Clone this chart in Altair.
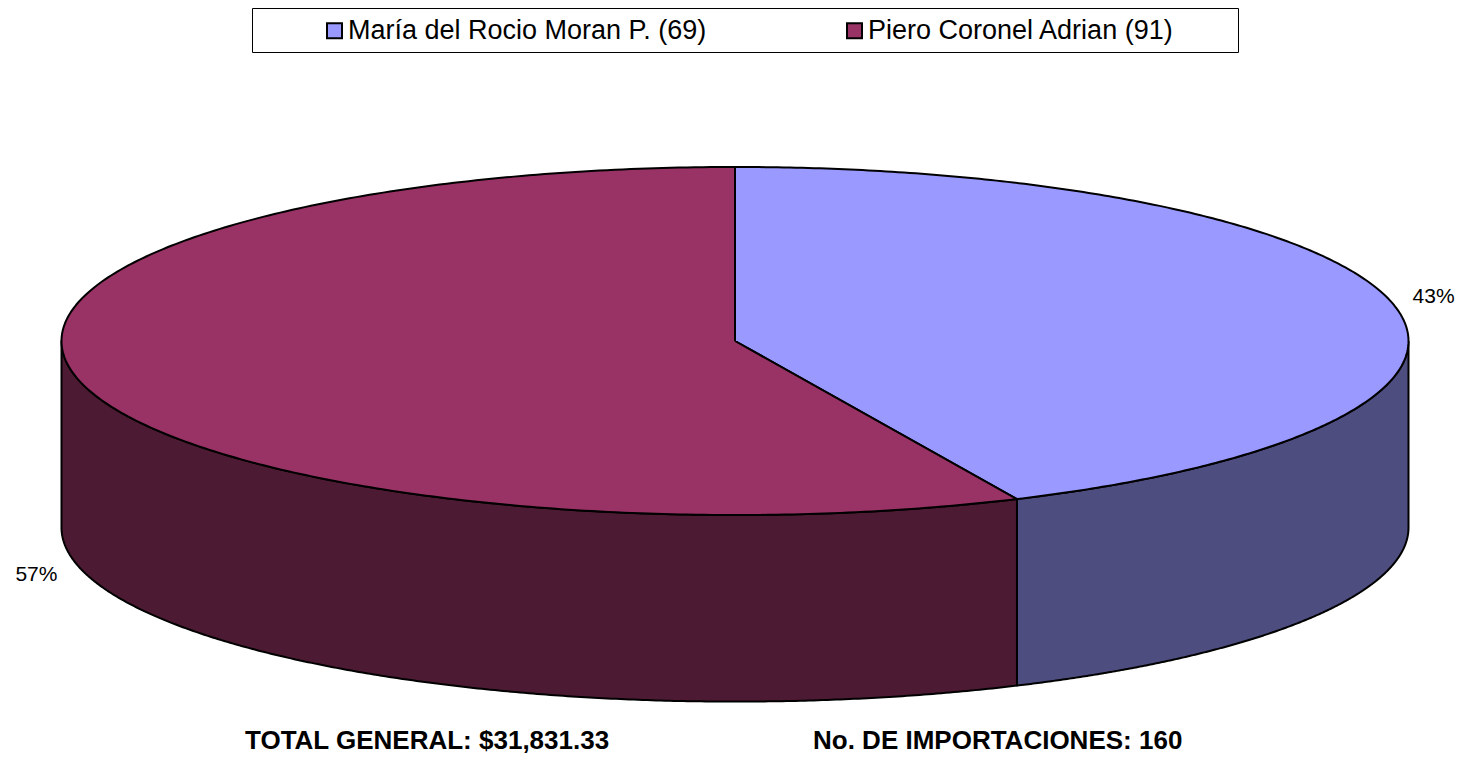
import numpy as np
import pandas as pd
import altair as alt

# ---- data ----
names = ["María del Rocio Moran P.", "Piero Coronel Adrian"]
counts = [69, 91]
top_colors = ["#9999FF", "#993366"]
side_colors = ["#4D4D80", "#4D1A33"]
total_general = "$31,831.33"

# ---- geometry of the 3D pie (unit radius) ----
TILT = 0.2584
DEPTH = 0.277
W, H = 1449, 747
CX, CY, S = 727.0, 333.0, 673.5
xdom = [(0 - CX) / S, (W - CX) / S]
ydom = [(CY - H) / S, CY / S]

total = sum(counts)
labels = [f"{n} ({c})" for n, c in zip(names, counts)]
fracs = [c / total for c in counts]
bounds = np.concatenate([[0.0], np.cumsum(fracs)]) * 2 * np.pi

top_rows, side_rows, lab_rows = [], [], []
for i, lab in enumerate(labels):
    a0, a1 = bounds[i], bounds[i + 1]
    t = np.linspace(a0, a1, 300)
    pts = [(0.0, 0.0)] + list(zip(np.sin(t), TILT * np.cos(t))) + [(0.0, 0.0)]
    for k, (x, y) in enumerate(pts):
        top_rows.append({"label": lab, "poly": f"top{i}", "o": k, "x": x, "y": y})
    lo, hi = max(a0, np.pi / 2), min(a1, 3 * np.pi / 2)
    if hi > lo:
        ts = np.linspace(lo, hi, 300)
        up = list(zip(np.sin(ts), TILT * np.cos(ts)))
        dn = list(zip(np.sin(ts[::-1]), TILT * np.cos(ts[::-1]) - DEPTH))
        sp = up + dn + [up[0]]
        for k, (x, y) in enumerate(sp):
            side_rows.append({"label": lab, "poly": f"side{i}", "o": k, "x": x, "y": y})
    mid = (a0 + a1) / 2
    lx = 1.03 * np.sin(mid)
    ly = 1.15 * TILT * np.cos(mid) - (DEPTH + 0.007 if np.cos(mid) < 0 else -0.002)
    lab_rows.append({"x": lx, "y": ly, "pct": f"{round(fracs[i] * 100):.0f}%"})

top_df = pd.DataFrame(top_rows)
side_df = pd.DataFrame(side_rows)
lab_df = pd.DataFrame(lab_rows)

X = alt.X("x:Q", scale=alt.Scale(domain=xdom, nice=False, zero=False), axis=None)
Y = alt.Y("y:Q", scale=alt.Scale(domain=ydom, nice=False, zero=False), axis=None)

sides = alt.Chart(side_df).mark_line(
    stroke="black", strokeWidth=2, strokeJoin="round"
).encode(
    x=X, y=Y, order="o:Q", detail="poly:N",
    fill=alt.Fill("label:N", scale=alt.Scale(domain=labels, range=side_colors), legend=None),
)

tops = alt.Chart(top_df).mark_line(
    stroke="black", strokeWidth=2, strokeJoin="round"
).encode(
    x=X, y=Y, order="o:Q", detail="poly:N",
    fill=alt.Fill(
        "label:N",
        scale=alt.Scale(domain=labels, range=top_colors),
        legend=alt.Legend(
            title=None, orient="none", legendX=313, legendY=9,
            direction="horizontal", symbolType="square", symbolSize=225,
            symbolStrokeColor="black", symbolStrokeWidth=2,
            labelFontSize=27, labelFont="Liberation Sans", labelColor="black",
            labelOffset=0, columnPadding=134, padding=0, labelLimit=0,
        ),
    ),
)

right_lab = alt.Chart(lab_df).transform_filter("datum.x > 0").mark_text(
    align="left", baseline="middle", fontSize=21, font="Liberation Sans", color="black"
).encode(x=X, y=Y, text="pct:N")
left_lab = alt.Chart(lab_df).transform_filter("datum.x <= 0").mark_text(
    align="right", baseline="middle", fontSize=21, font="Liberation Sans", color="black"
).encode(x=X, y=Y, text="pct:N")

legend_box = alt.Chart(pd.DataFrame({"a": [0]})).mark_rect(
    fill="white", stroke="black", strokeWidth=1
).encode(x=alt.value(244.5), x2=alt.value(1230.5), y=alt.value(0.5), y2=alt.value(44.5))

foot_df = pd.DataFrame({
    "t": [f"TOTAL GENERAL: {total_general}", f"No. DE IMPORTACIONES: {total}"],
})
foot1 = alt.Chart(foot_df).transform_filter("indexof(datum.t, 'TOTAL') == 0").mark_text(
    align="left", baseline="middle", fontSize=26, fontWeight="bold", font="Liberation Sans", color="black"
).encode(x=alt.value(237), y=alt.value(733), text="t:N")
foot2 = alt.Chart(foot_df).transform_filter("indexof(datum.t, 'No.') == 0").mark_text(
    align="left", baseline="middle", fontSize=26, fontWeight="bold", font="Liberation Sans", color="black"
).encode(x=alt.value(805), y=alt.value(733), text="t:N")

chart = alt.layer(legend_box, sides, tops, right_lab, left_lab, foot1, foot2).resolve_scale(
    fill="independent"
).properties(
    width=W, height=H, padding=0, autosize=alt.AutoSizeParams(type="none")
).configure_view(stroke=None)

chart.save("out.html", embed_options={"renderer": "svg", "actions": False})
